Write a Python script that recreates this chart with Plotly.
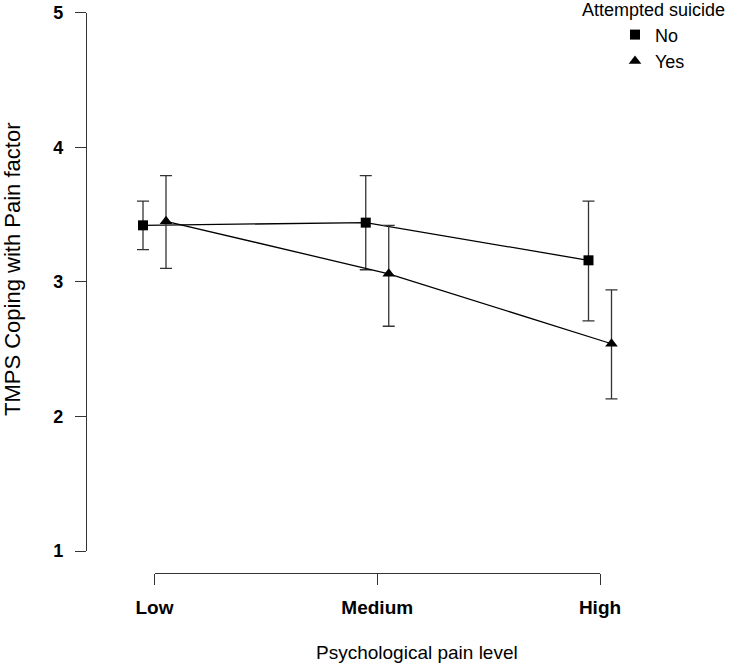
import plotly.graph_objects as go

# ---- data ----
levels = ["Low", "Medium", "High"]
no_mean = [3.42, 3.44, 3.16]
no_lower = [3.24, 3.09, 2.71]
no_upper = [3.60, 3.79, 3.60]
yes_mean = [3.45, 3.06, 2.54]
yes_lower = [3.10, 2.67, 2.13]
yes_upper = [3.79, 3.42, 2.94]
y_ticks = [1, 2, 3, 4, 5]
series_names = ["No", "Yes"]

# ---- geometry ----
W, H = 729, 663
x_lo_px, x_hi_px = 154.5, 600.0
ppu = (x_hi_px - x_lo_px) / 2
xr0 = 1 - x_lo_px / ppu
xr1 = xr0 + W / ppu
dodge = 11.5 / ppu
pos = list(range(1, len(levels) + 1))
x_no = [p - dodge for p in pos]
x_yes = [p + dodge for p in pos]

FONT = "Liberation Sans, Arial, sans-serif"
LINE_C = "#000000"
ERR_C = "#333333"

fig = go.Figure()

def add_series(xs, mean, lo, hi, name, symbol, size):
    fig.add_trace(go.Scatter(
        x=xs, y=mean, mode="lines", line=dict(color=LINE_C, width=1.3),
        showlegend=False, hoverinfo="skip", cliponaxis=False))
    fig.add_trace(go.Scatter(
        x=xs, y=mean, mode="markers", name=name, cliponaxis=False,
        marker=dict(symbol=symbol, size=size, color="#000000"),
        error_y=dict(type="data", symmetric=False,
                     array=[h - m for h, m in zip(hi, mean)],
                     arrayminus=[m - l for m, l in zip(mean, lo)],
                     color=ERR_C, thickness=1.3, width=6)))

add_series(x_no, no_mean, no_lower, no_upper, series_names[0], "square", 10)
add_series(x_yes, yes_mean, yes_lower, yes_upper, series_names[1], "triangle-up", 11)

# invisible trace to carry the display x-axis
fig.add_trace(go.Scatter(x=pos, y=[None] * len(pos), xaxis="x2", yaxis="y",
                         mode="markers", showlegend=False, hoverinfo="skip"))

fig.update_layout(
    width=W, height=H,
    margin=dict(l=0, r=0, t=0, b=0, autoexpand=False),
    paper_bgcolor="white", plot_bgcolor="rgba(0,0,0,0)",
    font=dict(family=FONT, color="#000000"),
    xaxis=dict(range=[xr0, xr1], domain=[0, 1], visible=False, fixedrange=True),
    xaxis2=dict(range=[1, 3], domain=[x_lo_px / W, x_hi_px / W],
                anchor="free", position=(H - 573.3) / H,
                tickvals=pos, ticktext=levels,
                showline=True, linecolor="#333333", linewidth=1.3,
                ticks="outside", ticklen=11, tickwidth=1.3, tickcolor="#333333",
                tickfont=dict(size=19, weight="bold", family=FONT),
                showgrid=False, zeroline=False, ticklabelstandoff=6),
    yaxis=dict(range=[1, 5], domain=[(H - 551) / H, (H - 12.7) / H],
               anchor="free", position=86 / W,
               tickvals=y_ticks,
               showline=True, linecolor="#333333", linewidth=1.3,
               ticks="outside", ticklen=11, tickwidth=1.3, tickcolor="#333333",
               tickfont=dict(size=18, weight="bold", family=FONT),
               showgrid=False, zeroline=False, ticklabelstandoff=8),
    legend=dict(x=580 / W, y=1 + 7 / H, xanchor="left", yanchor="top",
                bgcolor="rgba(0,0,0,0)", font=dict(size=18, family=FONT),
                title=dict(text="Attempted suicide", font=dict(size=18, family=FONT)),
                indentation=35, itemclick=False),
    annotations=[
        dict(text="Psychological pain level", x=417 / W, y=(H - 652) / H,
             xref="paper", yref="paper", showarrow=False,
             xanchor="center", yanchor="middle", font=dict(size=19, family=FONT)),
        dict(text="TMPS Coping with Pain factor", x=12 / W, y=(H - 270) / H,
             xref="paper", yref="paper", showarrow=False, textangle=-90,
             xanchor="center", yanchor="middle", font=dict(size=22, family=FONT)),
    ],
)

fig.write_html("out.html", config={"displayModeBar": False},
               post_script="document.body.style.margin='0';")
